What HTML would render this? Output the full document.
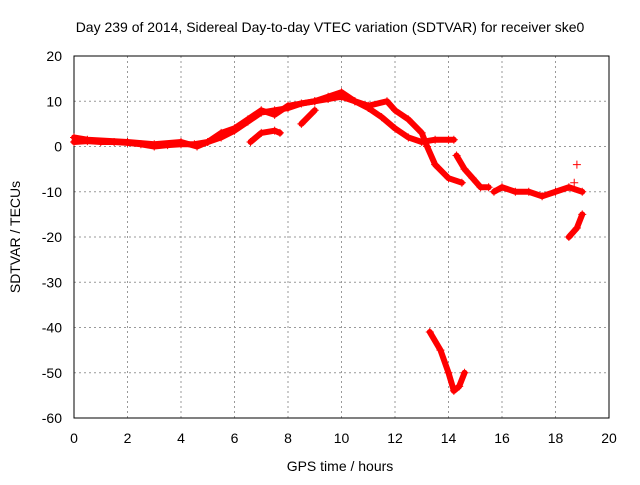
<!DOCTYPE html>
<html><head><meta charset="utf-8"><style>
body{margin:0;background:#fff}
svg text{font-family:"Liberation Sans",sans-serif;font-size:14px;fill:#000}
</style></head><body>
<svg width="640" height="480">
<rect width="640" height="480" fill="#fff"/>
<text x="330" y="32" text-anchor="middle">Day 239 of 2014, Sidereal Day-to-day VTEC variation (SDTVAR) for receiver ske0</text>
<g id="grid"></g>
<rect x="74" y="56" width="535" height="362" fill="none" stroke="#000"/>
<g id="ticks"></g>
<g id="marks"></g>
<text x="340" y="471" text-anchor="middle">GPS time / hours</text>
<text transform="translate(20,237) rotate(-90)" text-anchor="middle">SDTVAR / TECUs</text>
</svg>
<script>
const xTicks=[0,2,4,6,8,10,12,14,16,18,20];
const yTicks=[20,10,0,-10,-20,-30,-40,-50,-60];
const traceA=[[0,1],[0.5,1.2],[1,1],[1.5,1],[2,0.8],[2.5,0.5],[3,0],[3.5,0.3],[4,0.5],[4.5,0.5],[5,1],[5.5,2],[6,3.5],[6.5,5.5],[7,7.5],[7.5,8],[8,8.5],[8.5,9.5],[9,10],[9.5,10.5],[10,11],[10.5,10],[11,8.5],[11.5,6.5],[12,4],[12.5,2],[13,1],[13.5,1.5],[14,1.5],[14.2,1.5]];
const traceB=[[0,2],[0.5,1.5],[2,1],[3,0.5],[4,1],[4.6,0],[5,1],[5.5,3],[6,4],[6.5,6],[7,8],[7.5,7],[8,9],[9,10],[9.5,11],[10,12],[10.5,10],[11,9],[11.7,10],[12,8],[12.5,6],[13,3],[13.2,0],[13.5,-4],[14,-7],[14.5,-8]];
const traceC=[[6.6,1],[7,3],[7.5,3.5],[7.7,3]];
const traceD=[[8.5,5],[9,8]];
const traceE=[[14.3,-2],[14.6,-5],[14.9,-7],[15.2,-9],[15.5,-9]];
const traceF=[[15.7,-10],[16,-9],[16.5,-10],[17,-10],[17.5,-11],[18,-10],[18.5,-9],[19,-10]];
const traceG=[[18.5,-20],[18.8,-18],[19,-15]];
const traceH=[[13.3,-41],[13.7,-45],[14,-50],[14.2,-54],[14.4,-53],[14.6,-50]];
const spikes=[[18.7,-8],[18.8,-4]];
const X=v=>74+v*(535/20), Y=v=>56+(20-v)*(362/80);
const NS="http://www.w3.org/2000/svg";
function mk(t,a,p){const e=document.createElementNS(NS,t);for(const k in a)e.setAttribute(k,a[k]);p.appendChild(e);return e;}
const g=document.getElementById('grid'),tk=document.getElementById('ticks'),m=document.getElementById('marks');
xTicks.forEach(v=>{
 if(v>0&&v<20){const l=mk('line',{x1:X(v),x2:X(v),y1:56,y2:418,stroke:'#999','stroke-dasharray':'2,3'},g);
 
 }
 const t=mk('text',{x:X(v),y:443,'text-anchor':'middle'},tk);t.textContent=v;
 
 
});
yTicks.forEach(v=>{
 if(v<20&&v>-60){const l=mk('line',{x1:74,x2:609,y1:Y(v),y2:Y(v),stroke:'#999','stroke-dasharray':'2,3'},g);
 
 }
 const t=mk('text',{x:62,y:Y(v)+5,'text-anchor':'end'},tk);t.textContent=v;
 
 
});
[traceA,traceB,traceC,traceD,traceE,traceF,traceG,traceH,spikes].forEach((tr,i)=>{
 if(tr!==spikes){const pl=mk('polyline',{points:tr.map(p=>X(p[0])+','+Y(p[1])).join(' '),fill:'none',stroke:'#f00','stroke-width':6,'stroke-linejoin':'round','stroke-linecap':'round'},m);
 
 }
 tr.forEach(p=>{const x=X(p[0]),y=Y(p[1]);
  const c=mk('path',{d:`M${x-4},${y}H${x+4}M${x},${y-4}V${y+4}`,stroke:'#f00','stroke-width':1},m);
  
  });
});
</script>
</body></html>
